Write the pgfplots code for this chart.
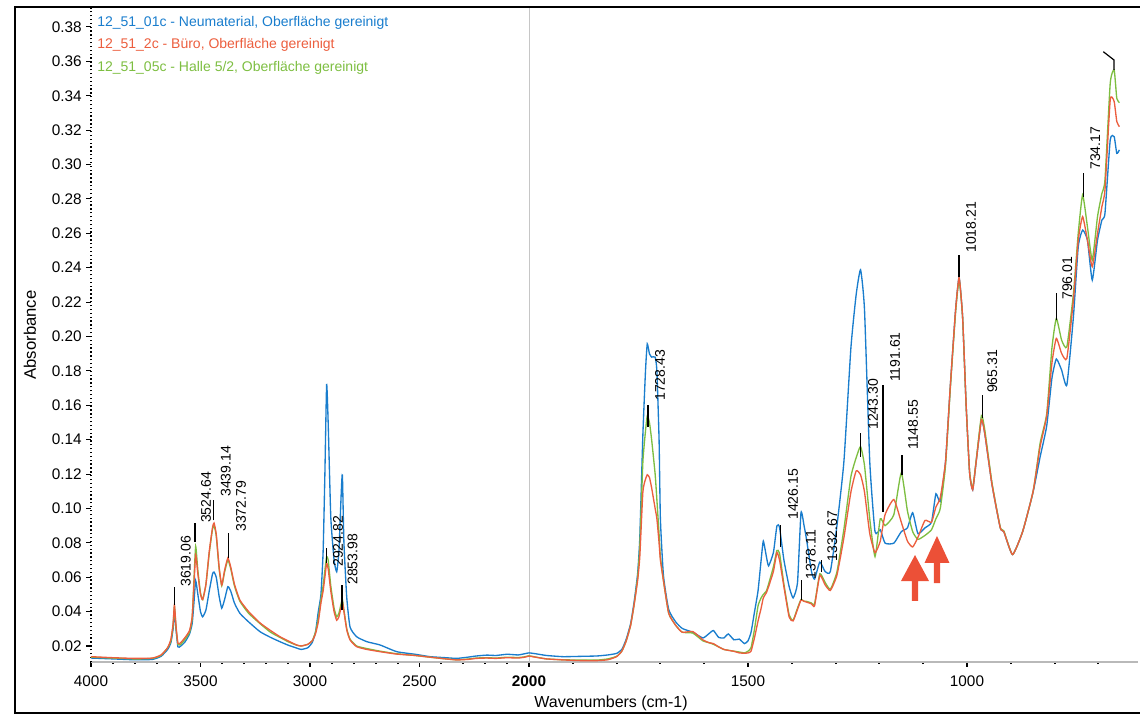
\documentclass[border=0pt]{standalone}
\usepackage{fontspec}
\setmainfont{Liberation Sans}
\usepackage{pgfplots}
\pgfplotsset{compat=1.18}
\usepackage{pgfplotstable}
\definecolor{cB}{RGB}{25,125,205}
\definecolor{cR}{RGB}{236,94,62}
\definecolor{cG}{RGB}{125,190,65}
\definecolor{cA}{RGB}{236,80,55}
\newcommand\pk{\fontsize{10.5}{12}\selectfont}

\pgfplotstableread{
u B R G
4000 0.0130 0.0138 0.0135
3900 0.0125 0.0132 0.0130
3800 0.0120 0.0128 0.0125
3720 0.0122 0.0130 0.0128
3680 0.0140 0.0148 0.0145
3650 0.0180 0.0190 0.0190
3635 0.0220 0.0240 0.0230
3625 0.0300 0.0330 0.0320
3619 0.0400 0.0440 0.0430
3612 0.0300 0.0320 0.0310
3603 0.0195 0.0215 0.0210
3590 0.0200 0.0220 0.0210
3570 0.0225 0.0250 0.0240
3550 0.0270 0.0290 0.0280
3538 0.0330 0.0370 0.0360
3530 0.0450 0.0550 0.0580
3522 0.0580 0.0730 0.0780
3512 0.0500 0.0620 0.0640
3500 0.0400 0.0500 0.0510
3490 0.0370 0.0470 0.0470
3475 0.0410 0.0560 0.0560
3460 0.0520 0.0750 0.0740
3445 0.0620 0.0890 0.0880
3438 0.0630 0.0915 0.0900
3428 0.0600 0.0850 0.0840
3415 0.0490 0.0660 0.0650
3403 0.0420 0.0555 0.0550
3390 0.0470 0.0640 0.0630
3375 0.0545 0.0712 0.0700
3362 0.0520 0.0660 0.0650
3345 0.0450 0.0560 0.0550
3320 0.0390 0.0467 0.0460
3280 0.0340 0.0400 0.0390
3228 0.0283 0.0334 0.0330
3180 0.0250 0.0290 0.0280
3137 0.0225 0.0254 0.0250
3100 0.0205 0.0230 0.0225
3061 0.0188 0.0206 0.0205
3040 0.0180 0.0200 0.0200
3010 0.0190 0.0210 0.0210
2990 0.0220 0.0230 0.0230
2975 0.0280 0.0270 0.0280
2962 0.0400 0.0340 0.0360
2950 0.0500 0.0450 0.0470
2940 0.0750 0.0520 0.0550
2932 0.1200 0.0600 0.0640
2924 0.1720 0.0680 0.0720
2917 0.1500 0.0650 0.0700
2905 0.0950 0.0520 0.0550
2890 0.0700 0.0400 0.0420
2878 0.0632 0.0350 0.0370
2868 0.0750 0.0370 0.0390
2857 0.1100 0.0430 0.0450
2852 0.1194 0.0457 0.0470
2845 0.0800 0.0400 0.0410
2832 0.0480 0.0293 0.0300
2817 0.0310 0.0235 0.0240
2787 0.0254 0.0196 0.0200
2740 0.0225 0.0180 0.0185
2680 0.0206 0.0167 0.0170
2604 0.0167 0.0153 0.0155
2520 0.0152 0.0145 0.0145
2452 0.0138 0.0135 0.0135
2380 0.0132 0.0125 0.0125
2330 0.0128 0.0119 0.0120
2280 0.0135 0.0122 0.0124
2240 0.0142 0.0128 0.0130
2193 0.0147 0.0130 0.0132
2150 0.0145 0.0128 0.0130
2100 0.0152 0.0132 0.0135
2050 0.0148 0.0130 0.0133
2020 0.0155 0.0135 0.0137
2000 0.0160 0.0141 0.0143
1985 0.0155 0.0135 0.0136
1960 0.0145 0.0125 0.0125
1922 0.0138 0.0119 0.0120
1880 0.0140 0.0115 0.0118
1845 0.0142 0.0115 0.0118
1820 0.0148 0.0120 0.0125
1800 0.0157 0.0138 0.0140
1788 0.0180 0.0170 0.0170
1778 0.0240 0.0230 0.0230
1768 0.0330 0.0320 0.0320
1760 0.0456 0.0440 0.0440
1752 0.0620 0.0580 0.0600
1747 0.0830 0.0720 0.0780
1740 0.1428 0.1096 0.1270
1734 0.1800 0.1170 0.1450
1730 0.1957 0.1196 0.1538
1725 0.1900 0.1180 0.1500
1720 0.1880 0.1120 0.1400
1712 0.1880 0.1000 0.1200
1708 0.1800 0.0940 0.1050
1703 0.1400 0.0800 0.0850
1700 0.0940 0.0700 0.0720
1693 0.0610 0.0580 0.0580
1681 0.0412 0.0390 0.0390
1665 0.0340 0.0320 0.0320
1650 0.0302 0.0280 0.0280
1626 0.0280 0.0284 0.0275
1603 0.0247 0.0236 0.0230
1590 0.0270 0.0220 0.0220
1579 0.0290 0.0214 0.0210
1567 0.0250 0.0195 0.0195
1555 0.0247 0.0180 0.0180
1545 0.0270 0.0175 0.0175
1532 0.0236 0.0169 0.0170
1520 0.0240 0.0160 0.0165
1508 0.0214 0.0158 0.0160
1500 0.0230 0.0160 0.0170
1493 0.0280 0.0170 0.0190
1485 0.0400 0.0250 0.0300
1477 0.0522 0.0346 0.0434
1470 0.0700 0.0420 0.0480
1465 0.0810 0.0480 0.0500
1458 0.0720 0.0510 0.0520
1453 0.0666 0.0545 0.0560
1442 0.0743 0.0633 0.0660
1434 0.0898 0.0743 0.0755
1428 0.0890 0.0700 0.0740
1418 0.0700 0.0545 0.0560
1406 0.0545 0.0368 0.0380
1397 0.0480 0.0346 0.0350
1387 0.0567 0.0412 0.0420
1379 0.0975 0.0467 0.0470
1372 0.0900 0.0460 0.0460
1367 0.0830 0.0456 0.0460
1355 0.0633 0.0445 0.0450
1348 0.0589 0.0434 0.0445
1336 0.0688 0.0611 0.0620
1324 0.0633 0.0556 0.0570
1312 0.0633 0.0523 0.0530
1297 0.0898 0.0611 0.0630
1281 0.1273 0.0830 0.0880
1265 0.1935 0.1096 0.1185
1253 0.2244 0.1218 0.1295
1243 0.2388 0.1196 0.1360
1234 0.2156 0.1096 0.1250
1222 0.1273 0.0854 0.0940
1210 0.0865 0.0743 0.0720
1198 0.0876 0.0810 0.0940
1187 0.0798 0.0964 0.0900
1167 0.0798 0.1052 0.0964
1150 0.0865 0.0920 0.1207
1136 0.0887 0.0810 0.0986
1124 0.0975 0.0776 0.0865
1112 0.0854 0.0832 0.0820
1096 0.0887 0.0930 0.0843
1081 0.0920 0.0920 0.0876
1071 0.1085 0.1008 0.0940
1061 0.1040 0.1063 0.1000
1049 0.1273 0.1273 0.1250
1038 0.1715 0.1715 0.1700
1026 0.2156 0.2156 0.2140
1018 0.2343 0.2343 0.2330
1010 0.2112 0.2112 0.2110
1002 0.1604 0.1604 0.1600
994 0.1207 0.1207 0.1210
987 0.1108 0.1108 0.1120
979 0.1273 0.1273 0.1280
967 0.1516 0.1516 0.1540
959 0.1428 0.1428 0.1450
943 0.1140 0.1140 0.1150
924 0.0887 0.0887 0.0890
916 0.0865 0.0865 0.0870
896 0.0732 0.0732 0.0732
873 0.0865 0.0865 0.0865
849 0.1096 0.1100 0.1100
833 0.1300 0.1360 0.1380
818 0.1480 0.1538 0.1550
806 0.1759 0.1847 0.1935
796 0.1869 0.1989 0.2105
784 0.1805 0.1902 0.1979
772 0.1718 0.1873 0.1940
757 0.2115 0.2212 0.2250
746 0.2522 0.2560 0.2600
736 0.2619 0.2697 0.2823
725 0.2560 0.2560 0.2638
714 0.2328 0.2406 0.2445
702 0.2560 0.2600 0.2697
692 0.2677 0.2755 0.2832
685 0.2716 0.2852 0.2910
673 0.3143 0.3375 0.3472
664 0.3162 0.3366 0.3550
658 0.3065 0.3250 0.3385
652 0.3085 0.3220 0.3360
}\spec

\begin{document}
\begin{tikzpicture}
\useasboundingbox (0,0) rectangle (855pt,536.25pt);
\begin{axis}[
  at={(68.25pt,39.75pt)}, anchor=south west,
  scale only axis, width=785.25pt, height=491.25pt,
  x dir=reverse,
  xmin=609.6, xmax=3000, ymin=0.0107, ymax=0.3916,
  x filter/.expression={x>2000 ? 2000+(x-2000)/2 : x},
  axis lines=left, axis line style={-},
  x axis line style={gray!55, line width=2pt},
  y axis line style={black, line width=1.1pt, dash pattern=on 1pt off 1.9pt},
  tick align=outside,
  xtick={1000,1500,2000,2250,2500,2750,3000},
  xticklabels={1000,1500,\textbf{2000},2500,3000,3500,4000},
  minor xtick={700,800,900,1100,1200,1300,1400,1600,1700,1800,1900,2050,2100,2150,2200,2300,2350,2400,2450,2550,2600,2650,2700,2800,2850,2900,2950},
  ytick={0.02,0.04,0.06,0.08,0.10,0.12,0.14,0.16,0.18,0.20,0.22,0.24,0.26,0.28,0.30,0.32,0.34,0.36,0.38},
  yticklabel style={/pgf/number format/.cd,fixed,fixed zerofill,precision=2},
  /pgf/number format/assume math mode=true,
  ticklabel style={font=\fontsize{11.5}{13}\selectfont},
  xticklabel style={yshift=-3pt},
  ytick style={black, line width=0.8pt},
  xtick style={black, line width=1.4pt},
  major tick length=3.5pt, minor tick length=1.5pt,
  minor tick style={black, line width=1.3pt},
  xlabel={Wavenumbers (cm-1)},
  xlabel style={font=\fontsize{12}{14}\selectfont, at={(axis description cs:0.4967,-0.0626)}, anchor=center},
  ylabel={Absorbance},
  ylabel style={font=\fontsize{12.5}{14}\selectfont, at={(axis description cs:-0.0583,0.4992)}, anchor=center, rotate=0},
  clip=true,
]
\draw[gray!45, line width=0.6pt] (axis cs:2000,0.0107) -- (axis cs:2000,0.3916);

\addplot[cB, line width=1pt, smooth, tension=0.3] table[x=u, y=B] {\spec};
\addplot[cG, line width=1pt, smooth, tension=0.3] table[x=u, y=G] {\spec};
\addplot[cR, line width=1pt, smooth, tension=0.3] table[x=u, y=R] {\spec};

% peak markers
\addplot[black, line width=0.9pt] coordinates {(3619.06,0.044) (3619.06,0.0543)};
\addplot[black, line width=0.9pt] coordinates {(3524.64,0.0805) (3524.64,0.0915)};
\addplot[black, line width=0.9pt] coordinates {(3439.14,0.093) (3439.14,0.105)};
\addplot[black, line width=0.9pt] coordinates {(3372.79,0.0712) (3372.79,0.0857)};
\addplot[black, line width=0.9pt] coordinates {(2924.82,0.0683) (2924.82,0.077)};
\addplot[black, line width=0.9pt] coordinates {(2853.98,0.041) (2853.98,0.0555)};
\addplot[black, line width=0.9pt] coordinates {(1728.43,0.1473) (1728.43,0.1602)};
\addplot[black, line width=0.9pt] coordinates {(1426.15,0.0776) (1426.15,0.0904)};
\addplot[black, line width=0.9pt] coordinates {(1378.11,0.0467) (1378.11,0.0584)};
\addplot[black, line width=0.9pt] coordinates {(1332.67,0.063) (1332.67,0.070)};
\addplot[black, line width=0.9pt] coordinates {(1243.30,0.130) (1243.30,0.1439)};
\addplot[black, line width=0.9pt] coordinates {(1191.61,0.0979) (1191.61,0.1718)};
\addplot[black, line width=0.9pt] coordinates {(1148.55,0.1195) (1148.55,0.131)};
\addplot[black, line width=0.9pt] coordinates {(1018.21,0.2346) (1018.21,0.2474)};
\addplot[black, line width=0.9pt] coordinates {(965.31,0.1526) (965.31,0.166)};
\addplot[black, line width=0.9pt] coordinates {(796.01,0.2096) (796.01,0.2253)};
\addplot[black, line width=0.9pt] coordinates {(734.17,0.2811) (734.17,0.2951)};
\addplot[black, line width=0.9pt] coordinates {(664.4,0.355) (664.4,0.3608) (688.8,0.3656)};

\begin{scope}[every node/.style={rotate=90, anchor=west, inner sep=0pt, font=\pk}]
\node at ([xshift=8.6pt]axis cs:2809.53,0.0543) {3619.06};
\node at ([xshift=8.3pt]axis cs:2762.32,0.0915) {3524.64};
\node at ([xshift=9pt]axis cs:2719.57,0.1067) {3439.14};
\node at ([xshift=9.5pt]axis cs:2686.40,0.0863) {3372.79};
\node at ([xshift=8.7pt]axis cs:2462.41,0.066) {2924.82};
\node at ([xshift=7.9pt]axis cs:2426.99,0.0555) {2853.98};
\node at ([xshift=9pt]axis cs:1728.43,0.1625) {1728.43};
\node at ([xshift=9.5pt]axis cs:1426.15,0.0933) {1426.15};
\node at ([xshift=7pt]axis cs:1378.11,0.0584) {1378.11};
\node at ([xshift=8.3pt]axis cs:1332.67,0.069) {1332.67};
\node at ([xshift=9.5pt]axis cs:1243.30,0.1456) {1243.30};
\node at ([xshift=9pt]axis cs:1191.61,0.1735) {1191.61};
\node at ([xshift=8.3pt]axis cs:1148.55,0.134) {1148.55};
\node at ([xshift=9pt]axis cs:1018.21,0.2486) {1018.21};
\node at ([xshift=7.5pt]axis cs:965.31,0.1671) {965.31};
\node at ([xshift=8.3pt]axis cs:796.01,0.2212) {796.01};
\node at ([xshift=9pt]axis cs:734.17,0.2968) {734.17};
\end{scope}

% red arrows
\fill[cA] (axis cs:1118.7,0.0729) -- (axis cs:1150.7,0.0578) -- (axis cs:1125.7,0.0578) -- (axis cs:1125.7,0.0462) -- (axis cs:1111.7,0.0462) -- (axis cs:1111.7,0.0578) -- (axis cs:1086.7,0.0578) -- cycle;
\fill[cA] (axis cs:1068.5,0.0840) -- (axis cs:1097.0,0.0683) -- (axis cs:1075.5,0.0683) -- (axis cs:1075.5,0.0566) -- (axis cs:1061.5,0.0566) -- (axis cs:1061.5,0.0683) -- (axis cs:1040.0,0.0683) -- cycle;
\end{axis}

\begin{scope}[x=0.75pt, y=0.75pt]
\draw[black, line width=1.6pt] (1140,2) -- (15,2) -- (15,708) -- (1140,708);
\node[anchor=west, inner sep=0pt, text=cB, font=\fontsize{10.5}{12}\selectfont] at (97,692) {12\_51\_01c - Neumaterial, Oberfläche gereinigt};
\node[anchor=west, inner sep=0pt, text=cR, font=\fontsize{10.5}{12}\selectfont] at (97,670) {12\_51\_2c - Büro, Oberfläche gereinigt};
\node[anchor=west, inner sep=0pt, text=cG, font=\fontsize{10.5}{12}\selectfont] at (97,647) {12\_51\_05c - Halle 5/2, Oberfläche gereinigt};
\end{scope}
\end{tikzpicture}
\end{document}
